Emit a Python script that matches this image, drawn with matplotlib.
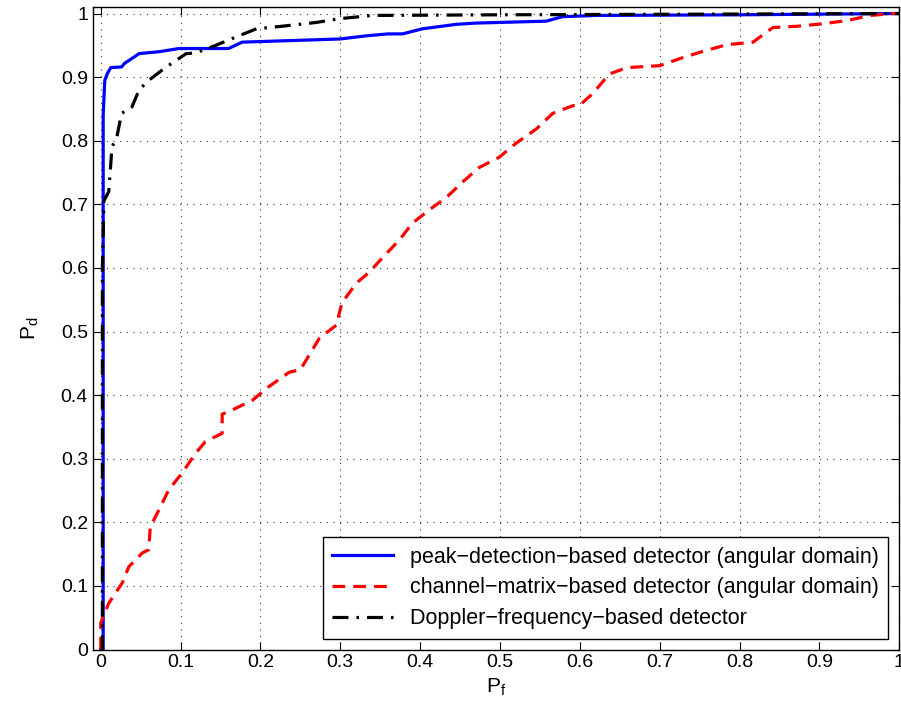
import matplotlib
matplotlib.use("Agg")
import matplotlib.pyplot as plt

plt.rcParams["font.family"] = ["Liberation Sans", "DejaVu Sans"]

# peak-detection-based detector (angular domain)
pf_peak = [0.0, 0.003, 0.003, 0.005, 0.008, 0.0125, 0.026, 0.03, 0.035, 0.048, 0.073, 0.098,
           0.16, 0.177, 0.30, 0.333, 0.36, 0.378, 0.403, 0.445, 0.47, 0.558, 0.578, 0.62, 0.8, 1.0]
pd_peak = [0.0, 0.0, 0.84, 0.895, 0.905, 0.915, 0.916, 0.922, 0.926, 0.937, 0.94, 0.945,
           0.945, 0.955, 0.96, 0.965, 0.968, 0.968, 0.976, 0.983, 0.985, 0.988, 0.995, 0.997, 0.998, 1.0]

# channel-matrix-based detector (angular domain)
pf_chan = [0.0, 0.0, 0.003, 0.01, 0.027, 0.035, 0.052, 0.06, 0.062, 0.073, 0.085, 0.102, 0.119,
           0.131, 0.152, 0.152, 0.165, 0.19, 0.21, 0.236, 0.25, 0.261, 0.274, 0.295, 0.302, 0.32,
           0.336, 0.352, 0.374, 0.39, 0.41, 0.433, 0.453, 0.474, 0.499, 0.52, 0.546, 0.566, 0.591,
           0.6, 0.616, 0.637, 0.659, 0.70, 0.725, 0.75, 0.784, 0.817, 0.834, 0.842, 0.872, 0.905,
           0.935, 0.964, 0.992, 1.0]
pd_chan = [0.0, 0.042, 0.052, 0.073, 0.105, 0.13, 0.152, 0.157, 0.193, 0.22, 0.251, 0.278, 0.309,
           0.327, 0.34, 0.37, 0.377, 0.392, 0.413, 0.436, 0.44, 0.463, 0.49, 0.51, 0.545, 0.576,
           0.593, 0.615, 0.644, 0.67, 0.69, 0.711, 0.735, 0.758, 0.774, 0.796, 0.819, 0.843, 0.855,
           0.856, 0.874, 0.905, 0.915, 0.918, 0.929, 0.939, 0.951, 0.955, 0.971, 0.978, 0.98, 0.984,
           0.989, 0.997, 1.0, 1.0]

# Doppler-frequency-based detector
pf_dop = [0.0, 0.002, 0.002, 0.004, 0.01, 0.014, 0.02, 0.026, 0.039, 0.048, 0.06, 0.081, 0.107,
          0.119, 0.144, 0.173, 0.195, 0.227, 0.27, 0.30, 0.34, 0.5, 1.0]
pd_dop = [0.0, 0.0, 0.6, 0.706, 0.72, 0.79, 0.805, 0.843, 0.853, 0.88, 0.895, 0.915, 0.937,
          0.938, 0.95, 0.965, 0.976, 0.98, 0.986, 0.992, 0.997, 0.998, 1.0]

fig = plt.figure(figsize=(9.01, 7.17), dpi=100)
ax = fig.add_axes([0.103, 0.094, 0.895, 0.896])

ax.plot(pf_peak, pd_peak, color="#0000ff", lw=2.3, label="peak\u2212detection\u2212based detector (angular domain)")
ax.plot(pf_chan, pd_chan, color="#ff0000", lw=2.3, ls="--", dashes=(4, 2.5),
        label="channel\u2212matrix\u2212based detector (angular domain)")
ax.plot(pf_dop, pd_dop, color="black", lw=2.3, ls="-.", dashes=(5, 2.5, 0.8, 2.5),
        label="Doppler\u2212frequency\u2212based detector")

ax.set_xlim(-0.01, 1.0)
ax.set_ylim(0, 1.01)
ax.set_xticks([i / 10 for i in range(11)])
ax.set_yticks([i / 10 for i in range(11)])
ax.set_xticklabels(["0", "0.1", "0.2", "0.3", "0.4", "0.5", "0.6", "0.7", "0.8", "0.9", "1"])
ax.set_yticklabels(["0", "0.1", "0.2", "0.3", "0.4", "0.5", "0.6", "0.7", "0.8", "0.9", "1"])
ax.tick_params(direction="in", top=True, right=True, labelsize=14, length=6)
ax.grid(True, color="black", ls=(0, (1, 5)), lw=0.8, alpha=0.8)
for s in ax.spines.values():
    s.set_linewidth(1.0)

ax.set_xlabel(r"$\mathregular{P_f}$", fontsize=15, labelpad=4)
ax.set_ylabel(r"$\mathregular{P_d}$", fontsize=15, labelpad=14)

leg = ax.legend(loc="lower right", fontsize=15.5, fancybox=False, framealpha=1,
                edgecolor="black", handlelength=2.8, borderaxespad=0.5, labelspacing=0.45,
                borderpad=0.45)
leg.get_frame().set_linewidth(1.0)

fig.savefig("out.png", dpi=100)
